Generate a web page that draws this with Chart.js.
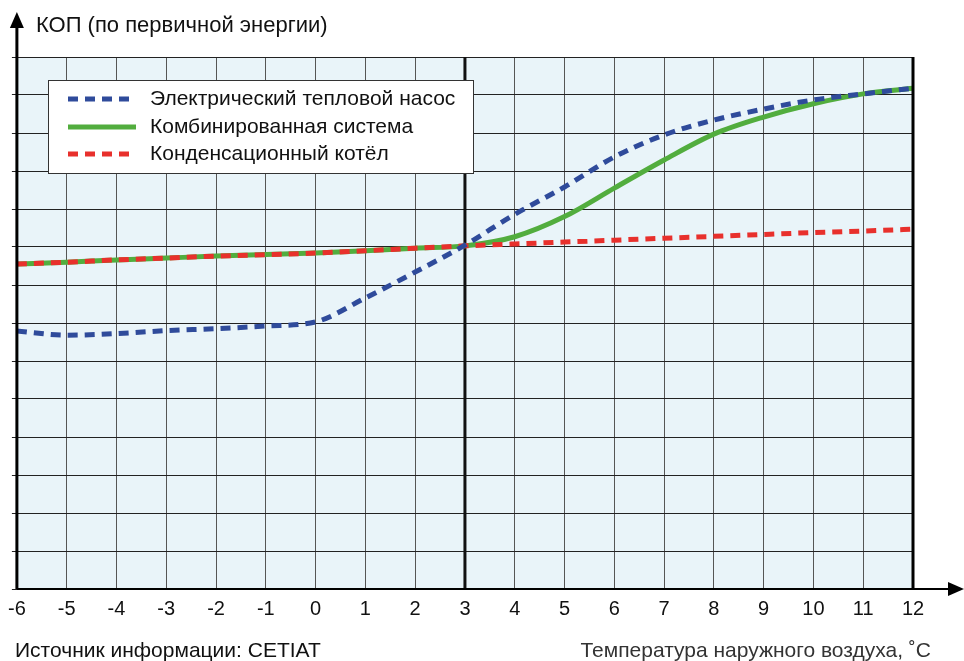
<!DOCTYPE html>
<html>
<head>
<meta charset="utf-8">
<script src="https://cdn.jsdelivr.net/npm/chart.js@4/dist/chart.umd.min.js"></script>
<style>
	html, body { margin:0; padding:0; background:#fff; }
	#wrap { position:relative; width:964px; height:661px; }
</style>
</head>
<body>
<div id="wrap"><canvas id="chart" width="964" height="661"></canvas></div>
<script>
// outside temperature, degC
var temps = [-6,-5,-4,-3,-2,-1,0,1,2,3,4,5,6,7,8,9,10,11,12];
// values, in grid units
var heatPump = [6.79,6.68,6.72,6.80,6.85,6.92,7.03,7.66,8.34,9.05,9.86,10.58,11.37,11.95,12.34,12.63,12.87,13.03,13.18];
var combined = [8.55,8.60,8.66,8.71,8.76,8.80,8.84,8.90,8.97,9.03,9.27,9.80,10.55,11.29,11.97,12.42,12.77,13.03,13.18];
var boiler = [8.55,8.60,8.66,8.71,8.76,8.80,8.84,8.90,8.97,9.03,9.08,9.13,9.18,9.23,9.28,9.33,9.38,9.42,9.47];
var seriesNames = ["Электрический тепловой насос","Комбинированная система","Конденсационный котёл"];

var FONT = "'Liberation Sans', Arial, sans-serif";
var FONT_NARROW = "'Liberation Sans Narrow', 'Liberation Sans', Arial, sans-serif";

function points(vals)
{
	var out = [];
	for (var i = 0; i < temps.length; i++)
		out.push({x: temps[i], y: vals[i]});
	return out;
}

var decoPlugin = {
	id: "deco",
	beforeDatasetsDraw: function(chart)
	{
		var ctx = chart.ctx, a = chart.chartArea, xs = chart.scales.x;
		ctx.save();
		// thick line at 3 degC
		var x3 = xs.getPixelForValue(3);
		ctx.strokeStyle = "#111";
		ctx.lineWidth = 3;
		ctx.beginPath(); ctx.moveTo(x3, a.top); ctx.lineTo(x3, a.bottom); ctx.stroke();
		ctx.restore();
	},
	afterDraw: function(chart)
	{
		var ctx = chart.ctx, a = chart.chartArea;
		ctx.save();
		// axes with arrows
		ctx.strokeStyle = "#000";
		ctx.fillStyle = "#000";
		ctx.lineWidth = 3;
		ctx.beginPath(); ctx.moveTo(a.left, a.bottom); ctx.lineTo(a.left, 26); ctx.stroke();
		ctx.beginPath(); ctx.moveTo(a.left, 12); ctx.lineTo(a.left - 7, 28); ctx.lineTo(a.left + 7, 28); ctx.closePath(); ctx.fill();
		ctx.lineWidth = 2;
		ctx.beginPath(); ctx.moveTo(a.left, a.bottom); ctx.lineTo(952, a.bottom); ctx.stroke();
		ctx.beginPath(); ctx.moveTo(964, a.bottom); ctx.lineTo(948, a.bottom - 7); ctx.lineTo(948, a.bottom + 7); ctx.closePath(); ctx.fill();
		ctx.lineWidth = 3;
		ctx.beginPath(); ctx.moveTo(a.right, a.top); ctx.lineTo(a.right, a.bottom); ctx.stroke();

		// texts
		ctx.fillStyle = "#111";
		ctx.textBaseline = "alphabetic";
		ctx.font = "22px " + FONT;
		ctx.textAlign = "left";
		ctx.fillText("КОП (по первичной энергии)", 36, 32);
		ctx.font = "21px " + FONT;
		ctx.fillText("Источник информации: CETIAT", 15, 657);
		ctx.fillStyle = "#333";
		ctx.textAlign = "right";
		ctx.fillText("Температура наружного воздуха, ˚C", 931, 657);

		// legend
		var lx = 48, ly = 80, lw = 425, lh = 93;
		ctx.fillStyle = "#fff";
		ctx.fillRect(lx, ly, lw, lh);
		ctx.strokeStyle = "#333";
		ctx.lineWidth = 1;
		ctx.strokeRect(lx + 0.5, ly + 0.5, lw, lh);
		var order = [0, 2, 1];
		var rows = [99, 127, 154];
		for (var i = 0; i < order.length; i++)
		{
			var ds = chart.data.datasets[order[i]];
			ctx.strokeStyle = ds.borderColor;
			ctx.lineWidth = ds.borderWidth;
			ctx.setLineDash(ds.borderDash || []);
			ctx.beginPath(); ctx.moveTo(68, rows[i]); ctx.lineTo(136, rows[i]); ctx.stroke();
			ctx.setLineDash([]);
			ctx.fillStyle = "#111";
			ctx.textAlign = "left";
			ctx.textBaseline = "middle";
			ctx.font = "21px " + FONT;
			ctx.fillText(ds.label, 150, rows[i]);
		}
		ctx.restore();
	}
};

var bgPlugin = {
	id: "bg",
	beforeDraw: function(chart)
	{
		var ctx = chart.ctx, a = chart.chartArea;
		ctx.save();
		ctx.fillStyle = "#e9f4f9";
		ctx.fillRect(a.left, a.top, a.right - a.left, a.bottom - a.top);
		ctx.restore();
	}
};

new Chart(document.getElementById("chart"), {
	type: "line",
	data: {
		datasets: [
			{label: seriesNames[0], data: points(heatPump), borderColor: "#2f4b9b", borderWidth: 5, borderDash: [10,7], cubicInterpolationMode: "monotone", pointRadius: 0},
			{label: seriesNames[2], data: points(boiler), borderColor: "#e8302c", borderWidth: 5, borderDash: [10,7], cubicInterpolationMode: "monotone", pointRadius: 0},
			{label: seriesNames[1], data: points(combined), borderColor: "#52ad3e", borderWidth: 5, cubicInterpolationMode: "monotone", pointRadius: 0}
		]
	},
	options: {
		responsive: false,
		animation: false,
		events: [],
		layout: {padding: {left: 11, right: 51, top: 57, bottom: 0}},
		plugins: {legend: {display: false}, tooltip: {enabled: false}},
		scales: {
			x: {
				type: "linear", min: -6, max: 12,
				ticks: {stepSize: 1, color: "#111", font: {size: 20, family: FONT}, padding: 8},
				grid: {color: "#555", lineWidth: 1, drawTicks: false},
				border: {display: false},
				afterFit: function(s) { s.height = 72; }
			},
			y: {
				min: 0, max: 14,
				ticks: {stepSize: 1, display: false},
				grid: {color: "#222", lineWidth: 1, tickLength: 5},
				border: {display: false}
			}
		}
	},
	plugins: [bgPlugin, decoPlugin]
});
</script>
</body>
</html>
